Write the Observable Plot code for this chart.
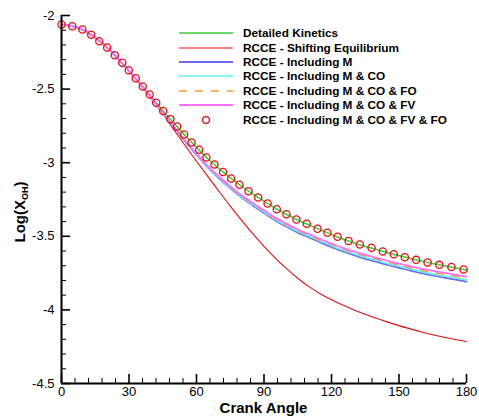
<!DOCTYPE html>
<html><head><meta charset="utf-8">
<script src="https://cdn.jsdelivr.net/npm/d3@7"></script>
<script src="https://cdn.jsdelivr.net/npm/@observablehq/plot@0.6"></script>
<style>
body{margin:0;background:#fff;font-family:"Liberation Sans",Arial,sans-serif;}
#wrap{position:relative;width:479px;height:420px;}
#legend{position:absolute;left:178px;top:26px;font:bold 11.8px "Liberation Sans",Arial,sans-serif;color:#000;}
.row{display:flex;align-items:center;height:14.4px;white-space:nowrap;}
.row svg{width:56px;height:14px;margin-right:9px;flex:none;}
</style></head><body><div id="wrap"></div>
<script>
const angles = [0,5,10,15,20,25,30,35,40,45,50,55,60,65,70,75,80,85,90,95,100,105,110,115,120,125,130,135,140,145,150,155,160,165,170,175,180];
const detailedKinetics = [-2.061,-2.074,-2.101,-2.152,-2.213,-2.290,-2.374,-2.462,-2.551,-2.645,-2.731,-2.817,-2.895,-2.973,-3.040,-3.102,-3.160,-3.212,-3.261,-3.309,-3.350,-3.390,-3.422,-3.456,-3.487,-3.518,-3.544,-3.569,-3.589,-3.612,-3.631,-3.651,-3.668,-3.685,-3.700,-3.714,-3.729];
const shiftingEq = [-2.061,-2.074,-2.101,-2.153,-2.216,-2.294,-2.381,-2.472,-2.567,-2.668,-2.777,-2.885,-2.990,-3.093,-3.195,-3.295,-3.390,-3.482,-3.568,-3.648,-3.720,-3.785,-3.842,-3.890,-3.931,-3.967,-4.000,-4.030,-4.057,-4.083,-4.107,-4.129,-4.150,-4.169,-4.186,-4.201,-4.215];
const inclM = [-2.061,-2.074,-2.101,-2.152,-2.214,-2.292,-2.378,-2.468,-2.562,-2.664,-2.760,-2.857,-2.946,-3.031,-3.106,-3.172,-3.235,-3.290,-3.342,-3.392,-3.435,-3.475,-3.507,-3.542,-3.573,-3.603,-3.628,-3.653,-3.673,-3.695,-3.714,-3.733,-3.750,-3.766,-3.780,-3.794,-3.808];
const inclMCO = [-2.061,-2.074,-2.101,-2.152,-2.214,-2.292,-2.377,-2.467,-2.561,-2.663,-2.759,-2.855,-2.943,-3.028,-3.102,-3.168,-3.230,-3.285,-3.336,-3.386,-3.428,-3.468,-3.500,-3.534,-3.565,-3.595,-3.620,-3.644,-3.664,-3.686,-3.704,-3.723,-3.740,-3.756,-3.770,-3.783,-3.797];
const inclMCOFO = [-2.061,-2.074,-2.100,-2.151,-2.213,-2.291,-2.376,-2.466,-2.560,-2.662,-2.758,-2.853,-2.941,-3.025,-3.098,-3.164,-3.225,-3.280,-3.330,-3.380,-3.421,-3.461,-3.493,-3.527,-3.557,-3.587,-3.612,-3.635,-3.655,-3.677,-3.695,-3.714,-3.730,-3.746,-3.759,-3.772,-3.786];
const inclMCOFV = [-2.061,-2.073,-2.099,-2.150,-2.212,-2.290,-2.375,-2.465,-2.559,-2.661,-2.756,-2.851,-2.938,-3.022,-3.094,-3.159,-3.220,-3.274,-3.324,-3.373,-3.414,-3.454,-3.485,-3.519,-3.549,-3.578,-3.603,-3.626,-3.646,-3.667,-3.685,-3.704,-3.720,-3.735,-3.748,-3.761,-3.774];
const circleAngles = [0,4.8,9.3,13.2,16.8,20.3,23.7,27.0,29.9,33.0,36.1,39.2,42.1,45.2,48.4,51.4,54.5,57.8,61.2,64.4,68.0,71.8,75.4,79.1,83.1,87.4,91.6,95.7,100.0,104.4,109.0,113.8,118.2,122.7,127.6,132.6,137.8,142.8,147.7,152.6,157.6,162.7,167.9,173.3,178.7];
const circleLog = [-2.061,-2.073,-2.095,-2.131,-2.175,-2.217,-2.270,-2.321,-2.372,-2.426,-2.482,-2.537,-2.593,-2.649,-2.704,-2.754,-2.808,-2.863,-2.912,-2.965,-3.012,-3.063,-3.107,-3.150,-3.194,-3.236,-3.277,-3.316,-3.350,-3.386,-3.415,-3.449,-3.476,-3.503,-3.532,-3.556,-3.578,-3.603,-3.622,-3.642,-3.660,-3.678,-3.694,-3.709,-3.726];
const seriesNames = ["Detailed Kinetics","RCCE - Shifting Equilibrium","RCCE - Including M","RCCE - Including M & CO","RCCE - Including M & CO & FO","RCCE - Including M & CO & FV","RCCE - Including M & CO & FV & FO"];
const xMajor = [0,30,60,90,120,150,180];
const xMinor = [6,12,18,24,36,42,48,54,66,72,78,84,96,102,108,114,126,132,138,144,156,162,168,174];
const yMajor = [-4.5,-4,-3.5,-3,-2.5,-2];
const yMinor = [-4.4,-4.3,-4.2,-4.1,-3.9,-3.8,-3.7,-3.6,-3.4,-3.3,-3.2,-3.1,-2.9,-2.8,-2.7,-2.6,-2.4,-2.3,-2.2,-2.1];

const styles = [
  {values: detailedKinetics, stroke:"#3ccc3c", w:1.5},
  {values: shiftingEq, stroke:"#e01010", w:1.1},
  {values: inclM, stroke:"#6a6af0", w:1.8},
  {values: inclMCO, stroke:"#60f0f0", w:1.6},
  {values: inclMCOFO, stroke:"#ff9a3a", w:1.4, dash:"8,8"},
  {values: inclMCOFV, stroke:"#ff70ff", w:1.8}
];
const lineMarks = styles.map(s => Plot.line(angles.map((a,i)=>({x:a,y:s.values[i]})), {x:"x", y:"y", stroke:s.stroke, strokeWidth:s.w, strokeDasharray:s.dash, curve:"monotone-x"}));
const circles = circleAngles.map((a,i)=>({x:a,y:circleLog[i]}));

const plot = Plot.plot({
  width:479, height:420,
  marginLeft:61, marginRight:13, marginTop:15, marginBottom:37,
  style:{fontFamily:'"Liberation Sans",Arial,sans-serif', background:"#fff"},
  x:{domain:[0,180]}, y:{domain:[-4.5,-2]},
  marks:[
    ...lineMarks,
    Plot.dot(circles, {x:"x", y:"y", r:3.6, stroke:"#e01010", strokeWidth:1.3, fill:"none"}),
    Plot.ruleX([0], {y1:-4.5, y2:-2, stroke:"#000", strokeWidth:2}),
    Plot.ruleY([-4.5], {x1:0, x2:180, stroke:"#000", strokeWidth:2}),
    Plot.axisX(xMajor, {tickSize:9, dy:-9, fill:"none", label:null, stroke:"#000", strokeWidth:1.6}),
    Plot.axisX(xMinor, {tickSize:5, dy:-5, fill:"none", label:null, stroke:"#000", strokeWidth:1}),
    Plot.axisX(xMajor, {tickSize:0, tickPadding:3, fontSize:13, fill:"#000", tickFormat:d=>String(d), label:null}),
    Plot.axisY(yMajor, {tickSize:9, dx:9, fill:"none", label:null, stroke:"#000", strokeWidth:1.6}),
    Plot.axisY(yMinor, {tickSize:5, dx:5, fill:"none", label:null, stroke:"#000", strokeWidth:1}),
    Plot.axisY(yMajor, {tickSize:0, tickPadding:7, fontSize:13, fill:"#000", tickFormat:d=>String(d), label:null})
  ]
});
const wrap = document.getElementById("wrap");
wrap.appendChild(plot);
const svg = d3.select(plot);
svg.append("text").attr("x",263.5).attr("y",413).attr("text-anchor","middle")
  .attr("font-size",15).attr("font-weight","bold").attr("fill","#000").text("Crank Angle");
const yl = svg.append("text").attr("transform","translate(25,212) rotate(-90)").attr("text-anchor","middle")
  .attr("font-size",15).attr("font-weight","bold").attr("fill","#000");
yl.append("tspan").text("Log(X");
yl.append("tspan").attr("font-size",9).attr("dy",3).text("OH");
yl.append("tspan").attr("dy",-3).text(")");

// legend
const leg = document.createElement("div");
leg.id = "legend";
seriesNames.forEach((name,i)=>{
  const row = document.createElement("div"); row.className="row";
  let sample;
  if (i < 6) {
    const s = styles[i];
    sample = `<svg><line x1="1" x2="55" y1="7" y2="7" stroke="${s.stroke}" stroke-width="${s.w}" ${s.dash?`stroke-dasharray="${s.dash}"`:""}/></svg>`;
  } else {
    sample = `<svg><circle cx="28" cy="7" r="3.4" fill="none" stroke="#e01010" stroke-width="1.3"/></svg>`;
  }
  row.innerHTML = sample + `<span>${name.replace(/&/g,"&amp;")}</span>`;
  leg.appendChild(row);
});
wrap.appendChild(leg);
</script></body></html>
